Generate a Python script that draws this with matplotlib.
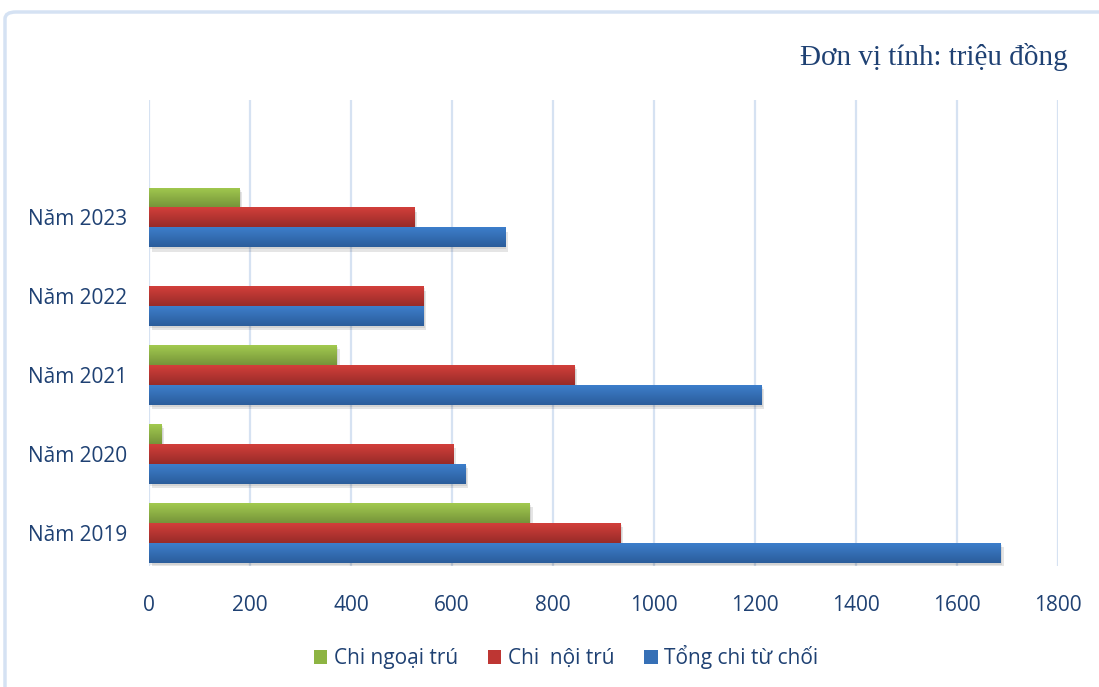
import matplotlib
matplotlib.use("Agg")
import matplotlib.pyplot as plt
import numpy as np
from matplotlib.colors import LinearSegmentedColormap
from matplotlib.patches import FancyBboxPatch, Patch
import matplotlib.patheffects as pe

# Data (triệu đồng)
years = ["Năm 2019", "Năm 2020", "Năm 2021", "Năm 2022", "Năm 2023"]
chi_ngoai_tru = [754, 25, 372, 0, 179]
chi_noi_tru = [934, 602, 843, 544, 526]
tong_chi_tu_choi = [1687, 627, 1213, 544, 705]

series_labels = ["Chi ngoại trú", "Chi  nội trú", "Tổng chi từ chối"]
x_ticks = [0, 200, 400, 600, 800, 1000, 1200, 1400, 1600, 1800]
unit_note = "Đơn vị tính: triệu đồng"

# top / bottom gradient colours for each series
grad = [("#A2CA4F", "#76943A"), ("#D23F3B", "#982B28"), ("#3D7ECB", "#2B5D9B")]
solid = ["#8DB443", "#BE3633", "#3670B6"]

text_color = "#1F4173"

fig = plt.figure(figsize=(10.99, 6.87), dpi=100)

# light rounded frame around the chart
frame = FancyBboxPatch((5 / 1099, -0.2), 1.2, 0.2 + (687 - 12) / 687,
                       boxstyle="round,pad=0,rounding_size=0.01",
                       transform=fig.transFigure, facecolor="white",
                       edgecolor="#D5E2F3", linewidth=2.5, zorder=-10)
fig.patches.append(frame)

ax = fig.add_axes([149 / 1099, 121 / 687, 909 / 1099, 466 / 687])
ax.set_facecolor("none")
ax.set_zorder(1)

y = np.arange(len(years))
h = 0.253
offsets = [h, 0.0, -h]
data = [chi_ngoai_tru, chi_noi_tru, tong_chi_tu_choi]

shadow = [pe.SimplePatchShadow(offset=(2, -3), shadow_rgbFace="#000000", alpha=0.10),
          pe.SimplePatchShadow(offset=(1, -1.5), shadow_rgbFace="#000000", alpha=0.08),
          pe.Normal()]

handles = []
for vals, off, (top, bot), col, lab in zip(data, offsets, grad, solid, series_labels):
    bars = ax.barh(y + off, vals, height=h, color=col, zorder=3,
                   linewidth=0, path_effects=shadow)
    cmap = LinearSegmentedColormap.from_list("g", [bot, top])
    for b in bars:
        w = b.get_width()
        if w <= 0:
            continue
        y0 = b.get_y()
        im = ax.imshow(np.linspace(0, 1, 64).reshape(-1, 1), cmap=cmap,
                       origin="lower", aspect="auto", interpolation="bilinear",
                       extent=(0, w, y0, y0 + b.get_height()), zorder=4)
        im.set_clip_path(b)
    handles.append(Patch(facecolor=col, edgecolor="none", label=lab))

ax.set_xlim(0, 1800)
ax.set_ylim(-0.418, 5.489)
ax.set_xticks(x_ticks)
ax.set_xticklabels([str(t) for t in x_ticks])
ax.set_yticks(y)
ax.set_yticklabels(years)

ax.grid(axis="x", color="#D6E2F2", linewidth=1.6, zorder=0)
ax.grid(axis="y", visible=False)
ax.set_axisbelow(True)
for s in ax.spines.values():
    s.set_visible(False)
ax.tick_params(axis="both", length=0, labelsize=15, labelcolor=text_color)
ax.tick_params(axis="x", pad=21)
ax.tick_params(axis="y", pad=16)
for lbl in ax.get_xticklabels() + ax.get_yticklabels():
    lbl.set_fontfamily("Open Sans")

fig.text(1068 / 1099, 1 - 57 / 687, unit_note, ha="right", va="center",
         fontsize=21, color=text_color, family="Liberation Serif")

leg = fig.legend(handles=handles, loc="center", bbox_to_anchor=(566 / 1099, 1 - 657 / 687),
                 ncol=3, frameon=False, handlelength=0.65, handleheight=0.65,
                 handletextpad=0.3, columnspacing=1.45,
                 prop={"family": "Open Sans", "size": 15})
for t in leg.get_texts():
    t.set_color(text_color)

fig.savefig("out.png", dpi=100)
